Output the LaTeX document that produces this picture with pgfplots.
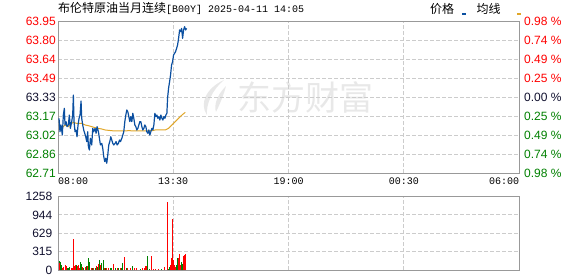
\documentclass[border=0pt]{standalone}
\usepackage{pgfplots}
\pgfplotsset{compat=1.18}
\usepackage{fontspec}
\setmainfont{Liberation Sans}
\newfontfamily\cjk{Noto Sans CJK SC}
\newfontfamily\mono{Liberation Mono}
\definecolor{upred}{HTML}{FF0000}
\definecolor{dngreen}{HTML}{008000}
\definecolor{flat}{HTML}{10102E}
\definecolor{pblue}{HTML}{0B4FA0}
\definecolor{avgor}{HTML}{E0A628}
\definecolor{framec}{HTML}{999999}
\definecolor{gridc}{HTML}{CCCCCC}
\definecolor{wm}{HTML}{E8E8E8}
\newcommand\cR[1]{\textcolor{upred}{#1}}
\newcommand\cG[1]{\textcolor{dngreen}{#1}}
\newcommand\cN[1]{\textcolor{flat}{#1}}
\pgfplotsset{
  base/.style={scale only axis, xmin=0, xmax=1320, xtick={0,330,660,990,1320},
    axis line style={draw=framec, line width=0.9pt},
    grid=major, major grid style={draw=gridc, line width=0.8pt, dash pattern=on 4pt off 2pt},
    major tick length=0pt, tick style={draw=none},
    ticklabel style={font=\fontsize{12}{12}\selectfont}}
}
\begin{document}
\begin{tikzpicture}
\path[use as bounding box] (0,0) rectangle (578pt,276pt);
% watermark
\fill[wm] (224pt,196pt) .. controls (206pt,188pt) and (199pt,172pt) .. (207pt,161pt)
  .. controls (206pt,172pt) and (212pt,186pt) .. cycle;
\fill[wm] (226pt,190pt) .. controls (216pt,180pt) and (214pt,170pt) .. (216pt,164pt)
  .. controls (220pt,172pt) and (224pt,182pt) .. cycle;
\node[text=wm, inner sep=0pt, anchor=west] at (237pt,179pt) {\cjk\fontsize{34}{34}\selectfont 东方财富};
% title
\node[anchor=base west, inner sep=0pt] at (58pt,263pt)
  {\cjk\fontsize{12}{12}\selectfont 布伦特原油当月连续\mono\fontsize{10}{10}\selectfont[B00Y] 2025-04-11 14:05};
% legend
\node[anchor=base west, inner sep=0pt] at (430pt,262pt) {\cjk\fontsize{12}{12}\selectfont 价格};
\fill[pblue] (461.5pt,260.7pt) rectangle (465.5pt,262.9pt);
\node[anchor=base west, inner sep=0pt] at (476.5pt,262pt) {\cjk\fontsize{12}{12}\selectfont 均线};
\fill[avgor] (516.5pt,260.7pt) rectangle (520.5pt,262.9pt);

% price axis
\begin{axis}[base, at={(58pt,103pt)}, anchor=south west, width=461pt, height=152pt,
  ymin=62.71, ymax=63.95,
  ytick={62.71,62.865,63.02,63.175,63.33,63.485,63.64,63.795,63.95},
  yticklabels={\cG{62.71},\cG{62.86},\cG{63.02},\cG{63.17},\cN{63.33},\cR{63.49},\cR{63.64},\cR{63.80},\cR{63.95}},
  yticklabel style={anchor=east, inner sep=0pt, xshift=-2pt},
  xticklabels={\rlap{08:00},13:30,19:00,00:30,\llap{06:00}},
  xticklabel style={font=\mono\fontsize{10}{10}\selectfont, anchor=base, inner sep=0pt, yshift=-12pt, text=black},
  clip=true]
\addplot[avgor, line width=1pt] coordinates {
(2.9,63.061)(10.5,63.074)(20.1,63.102)(29.6,63.088)(39.2,63.115)(44.0,63.123)(53.6,63.115)(67.9,63.115)
(77.5,63.102)(87.0,63.096)(96.6,63.088)(106.2,63.080)(115.7,63.074)(125.3,63.069)(134.9,63.061)(154.0,63.055)
(163.6,63.053)(182.7,63.053)(201.8,63.055)(240.1,63.053)(268.8,63.055)(278.3,63.061)(307.0,63.061)(316.6,63.074)
(326.2,63.102)(335.7,63.129)(345.3,63.156)(354.9,63.183)(364.4,63.205)
};
\addplot[pblue, line width=1.2pt, line join=round] coordinates {
(2.9,63.156)(5.7,63.047)(8.6,63.102)(12.4,63.020)(15.3,63.183)(18.2,63.238)(20.1,63.102)(23.0,63.129)
(25.8,63.088)(29.6,63.102)(32.5,63.183)(35.4,63.074)(39.2,63.129)(42.1,63.183)(44.0,63.346)(45.9,63.129)
(48.8,63.047)(51.6,63.061)(54.5,63.006)(57.4,63.102)(60.3,63.156)(63.1,63.183)(66.0,63.297)(67.9,63.156)
(70.8,63.102)(73.6,63.061)(76.5,63.034)(79.4,63.006)(82.3,62.966)(85.1,63.047)(87.0,62.925)(89.9,62.898)
(92.8,62.993)(96.6,62.939)(99.5,63.074)(102.3,63.047)(106.2,63.074)(109.0,63.034)(111.9,63.088)(115.7,63.047)
(118.6,62.993)(121.5,62.939)(125.3,62.952)(128.2,62.911)(131.0,62.843)(133.9,62.803)(136.8,62.830)(139.6,62.789)
(142.5,62.857)(145.4,62.939)(148.3,62.966)(151.1,63.006)(154.0,62.979)(156.9,62.952)(159.7,62.939)(163.6,62.952)
(166.4,62.966)(169.3,62.939)(173.1,62.952)(176.0,62.979)(178.9,62.966)(182.7,62.993)(185.6,63.020)(188.4,63.047)
(191.3,63.129)(194.2,63.183)(197.0,63.224)(199.9,63.210)(202.8,63.170)(205.7,63.129)(208.5,63.170)(211.4,63.129)
(214.3,63.197)(217.1,63.156)(220.0,63.102)(222.9,63.088)(225.7,63.061)(228.6,63.074)(231.5,63.102)(234.3,63.129)
(237.2,63.129)(240.1,63.088)(243.0,63.061)(245.8,63.074)(248.7,63.102)(251.6,63.088)(254.4,63.047)(257.3,63.034)
(260.2,63.061)(263.0,63.020)(265.9,63.047)(268.8,63.074)(271.6,63.061)(274.5,63.102)(277.4,63.197)(280.3,63.170)
(283.1,63.183)(286.0,63.156)(288.9,63.170)(291.7,63.142)(294.6,63.183)(297.5,63.156)(300.3,63.142)(303.2,63.170)
(306.1,63.156)(308.9,63.183)(311.8,63.197)(313.7,63.319)(316.6,63.401)(319.5,63.455)(322.3,63.510)(325.2,63.591)
(328.1,63.618)(330.9,63.673)(333.8,63.686)(336.7,63.700)(339.6,63.727)(342.4,63.754)(345.3,63.809)(348.2,63.877)
(351.0,63.863)(353.9,63.890)(356.8,63.809)(359.6,63.877)(362.5,63.904)(365.4,63.877)(368.3,63.890)
};
\end{axis}
% percent axis (right labels)
\begin{axis}[scale only axis, at={(58pt,103pt)}, anchor=south west, width=461pt, height=152pt,
  xmin=0, xmax=1320, ymin=-0.98, ymax=0.98,
  axis x line=none, axis y line*=right, y axis line style={draw=none},
  major tick length=0pt, tick style={draw=none},
  ytick={-0.98,-0.735,-0.49,-0.245,0,0.245,0.49,0.735,0.98},
  yticklabels={\cG{0.98 \%},\cG{0.74 \%},\cG{0.49 \%},\cG{0.25 \%},\cN{0.00 \%},\cR{0.25 \%},\cR{0.49 \%},\cR{0.74 \%},\cR{0.98 \%}},
  yticklabel pos=right,
  yticklabel style={anchor=west, inner sep=0pt, xshift=5pt, font=\fontsize{12}{12}\selectfont}]
\addplot[draw=none] coordinates {(0,0)};
\end{axis}
% volume axis
\begin{axis}[base, at={(58pt,6pt)}, anchor=south west, width=461pt, height=73.5pt,
  ymin=0, ymax=1258,
  ytick={0,314.5,629,943.5,1258}, yticklabels={0,315,629,944,1258},
  yticklabel style={anchor=east, inner sep=0pt, xshift=-5.5pt, text=flat},
  xticklabels={}]
\addplot[ycomb, draw=dngreen, line width=1pt] coordinates {
(2.9,154)(6.7,131)(9.6,86)(25.8,40)(29.6,40)(33.5,57)(51.6,86)(64.1,131)(66.9,97)(72.7,40)(81.3,74)
(87.0,200)(89.9,131)(98.5,40)(106.2,40)(113.8,57)(119.6,166)(125.3,114)(129.1,166)(134.9,29)(149.2,29)
(154.0,29)(163.6,40)(173.1,40)(181.7,40)(185.6,114)(195.1,40)(213.3,63)(235.3,17)(257.3,240)(261.1,17)
(297.5,17)(316.6,17)(319.5,57)(339.6,86)(342.4,212)(353.0,131)(355.8,97)
};
\addplot[ycomb, draw=upred, line width=1pt] coordinates {
(4.8,114)(12.4,40)(16.3,57)(20.1,86)(23.0,74)(37.3,40)(41.1,29)(43.0,532)(45.9,74)(48.8,86)(54.5,74)
(57.4,86)(60.3,40)(69.8,57)(77.5,57)(84.2,74)(94.7,40)(102.3,29)(110.0,74)(116.7,97)(122.4,86)(132.0,29)
(139.6,29)(144.4,29)(158.8,97)(169.3,40)(177.9,40)(190.3,223)(199.9,40)(206.6,29)(219.0,29)(225.7,29)
(242.0,29)(247.7,29)(251.5,74)(254.4,74)(268.8,240)(273.6,17)(278.3,17)(287.9,17)(305.1,57)(312.8,1172)
(322.3,86)(325.2,212)(328.1,875)(330.9,172)(333.8,86)(336.7,57)(345.3,212)(347.2,274)(350.1,86)
(359.6,246)(362.5,257)(365.4,269)
};
\end{axis}
\end{tikzpicture}
\end{document}
